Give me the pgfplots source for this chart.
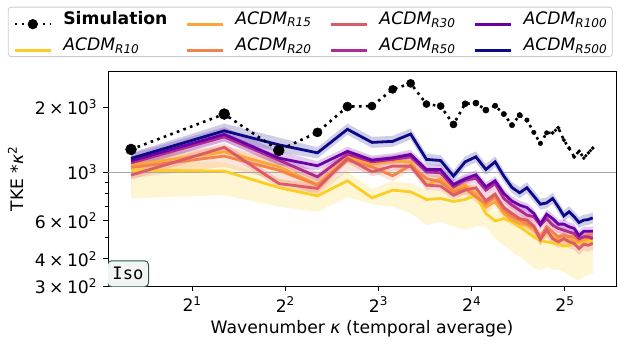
\documentclass[border=0pt]{standalone}
\usepackage{pgfplots}
\pgfplotsset{compat=1.18}
\usepackage{pgfplotstable}
\usepgfplotslibrary{fillbetween}
\usepackage{fontspec}
\setmainfont{DejaVu Sans}
\setmonofont{DejaVu Sans Mono}
\definecolor{c10}{HTML}{FCCE25}
\definecolor{c15}{HTML}{FCA636}
\definecolor{c20}{HTML}{F2844B}
\definecolor{c30}{HTML}{DB5C68}
\definecolor{c50}{HTML}{B12A90}
\definecolor{c100}{HTML}{6A00A8}
\definecolor{c500}{HTML}{0D0887}
\definecolor{isoedge}{HTML}{2F5555}
\definecolor{isofill}{HTML}{F2F4F4}

\pgfplotstableread{
k v
1.27 1276
2.54 1857
3.81 1263
5.08 1529
6.35 2010
7.62 2021
8.89 2413
10.16 2571
11.43 2064
12.70 2021
13.97 1664
15.24 2071
16.51 2086
17.78 1937
19.05 2027
20.32 1857
21.59 1652
22.86 1836
24.13 1742
25.40 1529
26.67 1360
27.94 1522
29.21 1522
30.48 1605
31.75 1409
33.02 1294
34.29 1180
35.56 1254
36.83 1164
38.10 1231
39.37 1294
}\tSim

\pgfplotstableread{
k m lo hi
1.27 1025 759 1128
2.54 1014 786 1115
3.81 852 694 937
5.08 780 658 858
6.35 915 770 1007
7.62 764 714 840
8.89 829 694 912
10.16 814 649 895
11.43 751 572 826
12.70 759 592 835
13.97 735 562 809
15.24 751 542 826
16.51 786 566 865
17.78 647 562 712
19.05 598 496 658
20.32 613 462 674
21.59 592 430 651
22.86 562 408 618
24.13 532 387 585
25.40 505 361 556
26.67 484 355 532
27.94 479 367 527
29.21 474 355 521
30.48 467 357 514
31.75 458 348 504
33.02 462 337 508
34.29 471 325 518
35.56 479 318 527
36.83 471 330 518
38.10 484 337 532
39.37 488 342 537
}\tA

\pgfplotstableread{
k m lo hi
1.27 1080 1019 1145
2.54 1244 1174 1319
3.81 1062 1002 1126
5.08 880 830 933
6.35 1180 1113 1251
7.62 1092 1030 1158
8.89 1127 1063 1195
10.16 1119 1056 1186
11.43 874 825 926
12.70 938 885 994
13.97 829 782 879
15.24 874 825 926
16.51 800 755 848
17.78 694 655 736
19.05 732 691 776
20.32 647 610 686
21.59 603 569 639
22.86 582 549 617
24.13 572 540 606
25.40 546 515 579
26.67 496 468 526
27.94 532 502 564
29.21 505 476 535
30.48 488 460 517
31.75 496 468 526
33.02 488 460 517
34.29 484 457 513
35.56 479 452 508
36.83 488 460 517
38.10 496 468 526
39.37 496 468 526
}\tB

\pgfplotstableread{
k m lo hi
1.27 1054 941 1180
2.54 1189 1062 1332
3.81 1025 915 1148
5.08 874 780 979
6.35 1139 1017 1276
7.62 1061 1001 1125
8.89 965 910 1023
10.16 1080 1019 1145
11.43 938 885 994
12.70 905 854 959
13.97 814 768 863
15.24 844 796 895
16.51 772 728 818
17.78 719 678 762
19.05 772 728 818
20.32 670 632 710
21.59 625 590 663
22.86 603 569 639
24.13 582 549 617
25.40 558 526 591
26.67 505 476 535
27.94 562 530 596
29.21 532 502 564
30.48 505 476 535
31.75 514 485 545
33.02 505 476 535
34.29 505 476 535
35.56 488 460 517
36.83 505 476 535
38.10 514 485 545
39.37 514 485 545
}\tC

\pgfplotstableread{
k m lo hi
1.27 972 926 1021
2.54 1304 1242 1369
3.81 889 847 933
5.08 844 804 886
6.35 1160 1105 1218
7.62 1006 958 1056
8.89 1069 1018 1122
10.16 1069 1018 1122
11.43 874 832 918
12.70 865 824 908
13.97 786 749 825
15.24 829 790 870
16.51 850 810 893
17.78 740 692 792
19.05 794 742 850
20.32 689 644 737
21.59 647 605 692
22.86 613 573 656
24.13 603 564 645
25.40 566 529 606
26.67 491 459 525
27.94 546 510 584
29.21 496 464 531
30.48 479 448 513
31.75 496 464 531
33.02 479 448 513
34.29 471 440 504
35.56 446 417 477
36.83 467 436 500
38.10 462 432 494
39.37 471 440 504
}\tD

\pgfplotstableread{
k m lo hi
1.27 1107 1054 1162
2.54 1459 1390 1532
3.81 1140 1086 1197
5.08 954 909 1002
6.35 1214 1156 1275
7.62 1119 1066 1175
8.89 1148 1093 1205
10.16 1180 1124 1239
11.43 1006 958 1056
12.70 996 949 1046
13.97 858 817 901
15.24 921 877 967
16.51 940 895 987
17.78 829 790 870
19.05 889 847 933
20.32 759 723 797
21.59 707 673 742
22.86 670 638 704
24.13 636 606 668
25.40 625 595 656
26.67 572 545 601
27.94 613 584 644
29.21 572 545 601
30.48 552 526 580
31.75 542 516 569
33.02 532 507 559
34.29 523 498 549
35.56 496 472 521
36.83 505 481 530
38.10 505 481 530
39.37 496 472 521
}\tE

\pgfplotstableread{
k m lo hi
1.27 1131 1047 1221
2.54 1497 1386 1617
3.81 1164 1078 1257
5.08 1073 1022 1127
6.35 1250 1190 1313
7.62 1139 1085 1196
8.89 1167 1111 1225
10.16 1210 1152 1271
11.43 1030 981 1082
12.70 1030 981 1082
13.97 880 838 924
15.24 935 890 982
16.51 975 929 1024
17.78 858 817 901
19.05 915 871 961
20.32 800 762 840
21.59 738 703 775
22.86 707 673 742
24.13 689 656 723
25.40 647 616 679
26.67 578 550 607
27.94 642 611 674
29.21 613 584 644
30.48 578 550 607
31.75 578 550 607
33.02 562 535 590
34.29 552 526 580
35.56 512 488 538
36.83 536 510 563
38.10 536 510 563
39.37 536 510 563
}\tF

\pgfplotstableread{
k m lo hi
1.27 1160 1094 1230
2.54 1555 1440 1679
3.81 1340 1241 1447
5.08 1231 1161 1305
6.35 1580 1491 1675
7.62 1375 1297 1458
8.89 1390 1311 1473
10.16 1502 1417 1592
11.43 1148 1083 1217
12.70 1135 1071 1203
13.97 962 908 1020
15.24 1119 1056 1186
16.51 1180 1113 1251
17.78 1032 974 1094
19.05 1119 1056 1186
20.32 962 908 1020
21.59 852 804 903
22.86 806 760 854
24.13 850 802 901
25.40 778 734 825
26.67 714 674 757
27.94 724 683 767
29.21 759 716 805
30.48 694 655 736
31.75 631 595 669
33.02 659 622 699
34.29 625 590 663
35.56 588 555 623
36.83 603 569 639
38.10 607 573 643
39.37 618 583 655
}\tG

\newcommand{\band}[3]{%
  \addplot[name path=up#1, draw=none, forget plot] table[x=k,y=hi]{#2};
  \addplot[name path=lo#1, draw=none, forget plot] table[x=k,y=lo]{#2};
  \addplot[fill=#3, fill opacity=0.2, draw=none, forget plot] fill between[of=up#1 and lo#1];
  \addplot[#3, line width=2.8pt, forget plot] table[x=k,y=m]{#2};
}
% markers of the simulation for the points with index #1 ... #2-1, radius #3
\newcommand{\simmarks}[3]{%
  \addplot[only marks, mark=*, black, mark size=#3pt, forget plot,
    skip coords between index={0}{#1}, skip coords between index={#2}{31}]
    table[x=k,y=v]{\tSim};
}
\newcommand{\acdm}[1]{\textit{ACDM}\textsubscript{\textit{#1}}}
\newcommand{\tms}{\hspace{0.2em}×\hspace{0.2em}}

\begin{document}
\fontsize{17.2}{20}\selectfont
\begin{tikzpicture}
\begin{axis}[
  scale only axis,
  width=508pt, height=214pt,
  xmode=log, ymode=log, log basis x=2,
  xmin=1.07, xmax=46.8, ymin=300, ymax=2900,
  xtick={2,4,8,16,32},
  xticklabels={2\textsuperscript{1},2\textsuperscript{2},2\textsuperscript{3},2\textsuperscript{4},2\textsuperscript{5}},
  xminorticks=false,
  ytick={300,400,600,1000,2000},
  yticklabels={3\tms 10\textsuperscript{2},4\tms 10\textsuperscript{2},6\tms 10\textsuperscript{2},10\textsuperscript{3},2\tms 10\textsuperscript{3}},
  minor ytick={500,700,800,900},
  /pgf/number format/assume math mode=true,
  tick align=outside, tick pos=left,
  major tick length=5pt, minor tick length=3pt,
  every tick/.style={black, line width=0.9pt},
  axis line style={line width=1pt},
  xlabel={Wavenumber \textit{κ} (temporal average)},
  ylabel={TKE *\textit{κ}\textsuperscript{2}},
  xlabel style={yshift=3pt},
  legend columns=4,
  legend cell align=left,
  legend image code/.code={\draw[#1, line width=3pt] (0pt,0pt) -- (36pt,0pt);},
  legend style={at={(-0.197,1.070)}, anchor=south west,
    draw=black!20, rounded corners=3pt, line width=0.8pt,
    inner xsep=5pt, inner ysep=4pt,
    nodes={inner sep=0pt, anchor=base west},
    /tikz/every odd column/.append style={column sep=11pt},
    /tikz/every even column/.append style={column sep=18pt},
    row sep=8pt},
]
\addlegendimage{black, legend image code/.code={\draw[black, line width=2.6pt, dash pattern=on 2.6pt off 4.4pt] (0pt,0pt) -- (36pt,0pt); \fill[black] (18pt,0pt) circle (4.7pt);}}
\addlegendentry{\textbf{Simulation}}
\addlegendimage{c15}\addlegendentry{\acdm{R15}}
\addlegendimage{c30}\addlegendentry{\acdm{R30}}
\addlegendimage{c100}\addlegendentry{\acdm{R100}}
\addlegendimage{c10}\addlegendentry{\acdm{R10}}
\addlegendimage{c20}\addlegendentry{\acdm{R20}}
\addlegendimage{c50}\addlegendentry{\acdm{R50}}
\addlegendimage{c500}\addlegendentry{\acdm{R500}}

\addplot[black!35, line width=1.2pt, forget plot] coordinates {(1.07,1000) (46.8,1000)};

\band{a}{\tA}{c10}
\band{b}{\tB}{c15}
\band{c}{\tC}{c20}
\band{d}{\tD}{c30}
\band{e}{\tE}{c50}
\band{f}{\tF}{c100}
\band{g}{\tG}{c500}

\addplot[black, line width=2.6pt, dash pattern=on 2.6pt off 4.4pt, forget plot] table[x=k,y=v]{\tSim};
\simmarks{0}{3}{5.5}
\simmarks{3}{5}{4.6}
\simmarks{5}{8}{4.1}
\simmarks{8}{11}{3.6}
\simmarks{11}{14}{3.1}
\simmarks{14}{18}{2.7}
\simmarks{18}{22}{2.25}
\simmarks{22}{27}{1.9}
\simmarks{27}{31}{1.6}

\node[draw=isoedge, fill=isofill, rounded corners=4pt, line width=1pt,
  font=\ttfamily, anchor=south west, inner xsep=5pt, inner ysep=0pt,
  minimum height=26pt]
  at (axis description cs:-0.002,-0.006) {Iso};
\end{axis}
\pgfresetboundingbox
\path (current axis.south west) ++(-108pt,-62pt) rectangle ++(618pt,348pt);
\end{tikzpicture}
\end{document}
